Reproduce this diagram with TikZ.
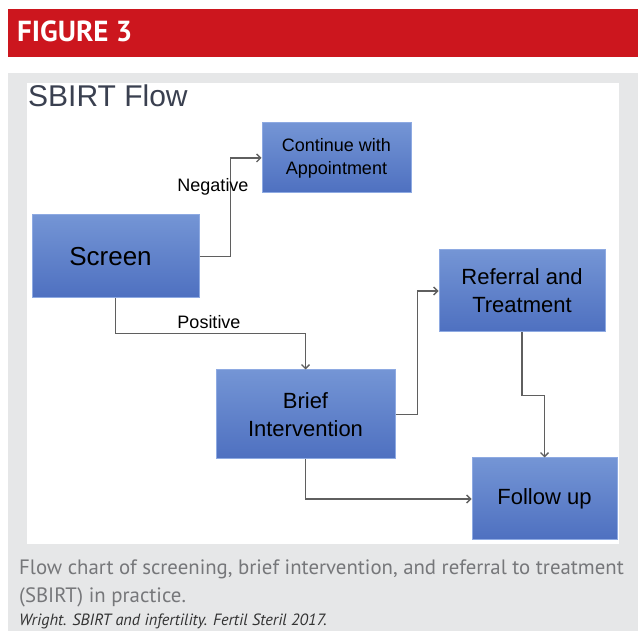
\documentclass[tikz,border=0pt]{standalone}
\usepackage{fontspec}
\setmainfont{Liberation Sans}
\newfontfamily\capfont{PT Sans}
\usetikzlibrary{arrows.meta,positioning}
\definecolor{figred}{RGB}{204,22,30}
\definecolor{panelgray}{RGB}{230,231,232}
\definecolor{boxtop}{RGB}{116,149,213}
\definecolor{boxbot}{RGB}{78,112,192}
\definecolor{boxline}{RGB}{142,170,226}
\definecolor{arrowgray}{RGB}{95,95,95}
\definecolor{titleink}{RGB}{58,64,80}
\definecolor{capink}{RGB}{118,119,122}
\tikzset{
  box/.style = {draw=boxline, line width=1pt, top color=boxtop, bottom color=boxbot, rectangle, inner sep=0pt, align=center, font=\fontsize{22}{28}\selectfont},
  arrow/.style = {draw=arrowgray, line width=1.3pt, -{Straight Barb[length=4pt,width=8pt]}},
  lbl/.style = {inner sep=0pt, font=\fontsize{18}{22}\selectfont}
}

\begin{document}
\begin{tikzpicture}[x=1pt,y=-1pt]
  \useasboundingbox (0,0) rectangle (641,631);
  % header and panel
  \fill[figred] (8,9) rectangle (638,57);
  \node[anchor=base west, inner sep=0pt, text=white, font=\capfont\bfseries\fontsize{29}{29}\selectfont] (fig) at (17,42) {FIGURE 3};
  \fill[panelgray] (8,73) rectangle (638,631);
  \fill[white] (27,83) rectangle (619,544);
  \node[anchor=base west, inner sep=0pt, text=titleink, font=\fontsize{30}{30}\selectfont] (title) at (28,107) {SBIRT Flow};

  % boxes
  \node[box, minimum width=167, minimum height=83, font=\fontsize{26}{30}\selectfont] (screen) at (115.5,256.5) {Screen\hspace*{10pt}};
  \node[box, minimum width=149, minimum height=70, font=\fontsize{18}{23}\selectfont] (cont) at (336.5,158) {Continue with\\Appointment};
  \node[box, minimum width=166, minimum height=82] (refer) at (522,291) {Referral and\\Treatment};
  \node[box, minimum width=179, minimum height=89] (brief) at (305.5,414.5) {Brief\\Intervention};
  \node[box, minimum width=145, minimum height=82] (follow) at (544.5,499) {Follow up};

  % connectors
  \draw[arrow] (screen.east) -- ++(31,0) |- (cont.west);
  \draw[arrow] (screen.south) -- ++(0,35) -| (brief.north);
  \draw[arrow] (brief.east) -- ++(22,0) |- (refer.west);
  \draw[arrow] (refer.south) -- ++(0,63) -| (follow.north);
  \draw[arrow] (brief.south) |- (follow.west);
  \node[lbl] (neg) at (213,187) {Negative};
  \node[lbl] (pos) at (209,322) {Positive};

  % caption
  \node[anchor=base west, inner sep=0pt, text=capink, font=\capfont\fontsize{20.8}{27}\selectfont] (cap1) at (19,575) {Flow chart of screening, brief intervention, and referral to treatment};
  \node[anchor=base west, inner sep=0pt, text=capink, font=\capfont\fontsize{20.8}{27}\selectfont] (cap2) at (19,602) {(SBIRT) in practice.};
  \node[anchor=base west, inner sep=0pt, text=black!80, font=\capfont\itshape\fontsize{16.3}{18}\selectfont] (src) at (19,625) {Wright. SBIRT and infertility. Fertil Steril 2017.};
\end{tikzpicture}
\end{document}
